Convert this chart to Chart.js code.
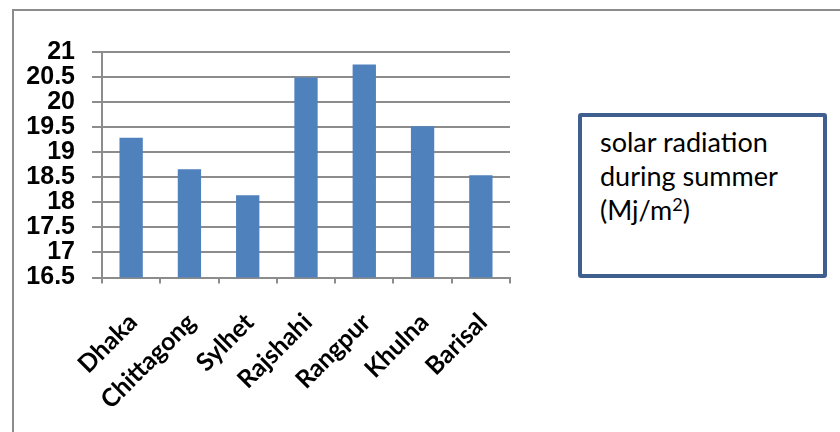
<!DOCTYPE html>
<html>
<head>
<meta charset="utf-8">
<script src="https://cdn.jsdelivr.net/npm/chart.js@4/dist/chart.umd.min.js"></script>
<style>
  html, body { margin: 0; padding: 0; background: #ffffff; }
  #wrap { position: relative; width: 840px; height: 432px; overflow: hidden; }
  #frame {
    position: absolute; left: 12px; top: 9px; width: 900px; height: 500px;
    border: 2px solid #8c8c8c; box-sizing: border-box;
  }
  #chart { position: absolute; left: 0; top: 0; }
  #note {
    position: absolute; left: 578px; top: 113px; width: 249px; height: 165px;
    box-sizing: border-box; border: 4px solid #3f5f8e; border-radius: 3px;
    padding: 8px 0 0 18px; background: #ffffff;
    font-family: Lato, "Open Sans", sans-serif; font-size: 27px; line-height: 34px; color: #000;
  }
  #note sup { font-size: 18px; vertical-align: 9px; line-height: 0; }
</style>
</head>
<body>
<div id="wrap">
  <div id="frame"></div>
  <canvas id="chart" width="840" height="432"></canvas>
  <div id="note">solar radiation<br>during summer<br>(Mj/m<sup>2</sup>)</div>
</div>
<script>
// Summer solar radiation by division (Mj/m²)
const divisions = ['Dhaka', 'Chittagong', 'Sylhet', 'Rajshahi', 'Rangpur', 'Khulna', 'Barisal'];
const radiation = [19.29, 18.66, 18.14, 20.49, 20.75, 19.52, 18.54];
const axisMin = 16.5;
const axisMax = 21;
const axisStep = 0.5;

const gridGray = '#8c8c8c';

new Chart(document.getElementById('chart'), {
  type: 'bar',
  data: {
    labels: divisions,
    datasets: [{
      label: 'solar radiation during summer (Mj/m²)',
      data: radiation,
      backgroundColor: '#4f81bd',
      borderWidth: 0,
      barPercentage: 0.4,
      categoryPercentage: 1.0
    }]
  },
  options: {
    responsive: false,
    animation: false,
    layout: { padding: { left: 14, top: 52, right: 330, bottom: 0 } },
    plugins: {
      legend: { display: false },
      tooltip: { enabled: false }
    },
    scales: {
      x: {
        afterFit: (scale) => { scale.height = 154.5; },
        offset: true,
        grid: {
          offset: true,
          drawOnChartArea: false,
          drawTicks: true,
          tickLength: 6,
          color: gridGray,
          lineWidth: 2
        },
        border: { display: true, color: gridGray, width: 2 },
        ticks: {
          autoSkip: false,
          minRotation: 45,
          maxRotation: 45,
          padding: 24,
          labelOffset: 2,
          color: '#000000',
          font: { family: 'Lato, "Open Sans", sans-serif', size: 25, weight: 'bold' }
        }
      },
      y: {
        afterFit: (scale) => { scale.width = 88; },
        min: axisMin,
        max: axisMax,
        grid: {
          color: gridGray,
          lineWidth: 2,
          drawTicks: true,
          tickLength: 10
        },
        border: { display: true, color: gridGray, width: 2 },
        ticks: {
          stepSize: axisStep,
          autoSkip: false,
          padding: 17,
          color: '#000000',
          callback: (v) => String(Math.round(v * 10) / 10),
          font: { family: '"Liberation Sans", Arial, sans-serif', size: 25, weight: 'bold', lineHeight: 1 }
        }
      }
    }
  }
});
</script>
</body>
</html>
